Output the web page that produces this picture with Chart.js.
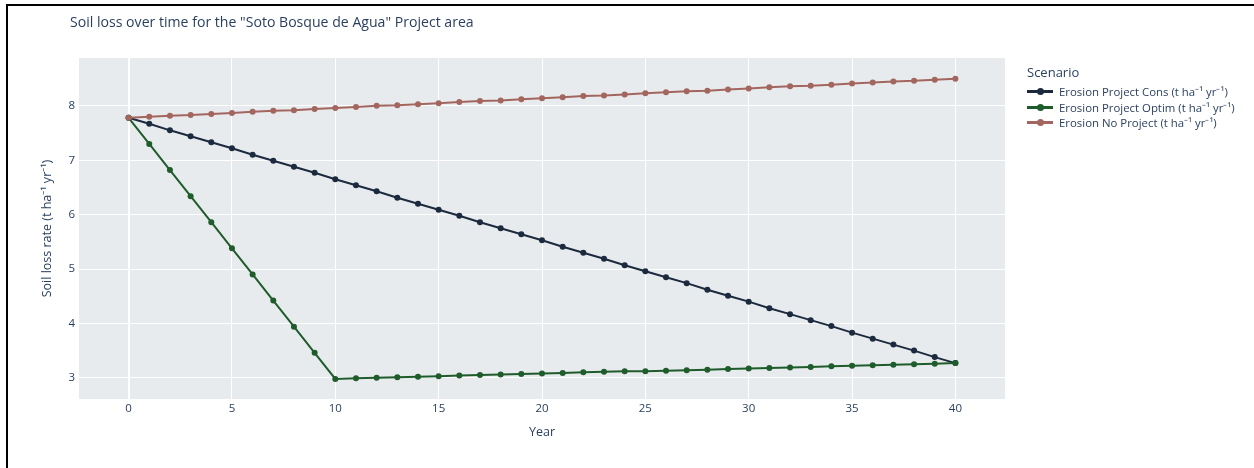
<!DOCTYPE html>
<html>
<head>
<meta charset="utf-8">
<script src="https://cdn.jsdelivr.net/npm/chart.js@4"></script>
<style>
  html, body { margin: 0; padding: 0; background: #fff; }
  #wrap { position: relative; width: 1254px; height: 468px; overflow: hidden; font-family: "Open Sans", sans-serif; color: #2a3f5f; }
  #frame { position: absolute; left: 6px; top: 4px; right: -10px; bottom: -10px; border-left: 2px solid #000; border-top: 2px solid #000; }
  #title { position: absolute; left: 70px; top: 12px; font-size: 14.1px; white-space: nowrap; }
  #legend { position: absolute; left: 1027px; top: 62px; }
  #legend .lt { font-size: 13px; height: 22px; line-height: 20px; }
  #legend .item { display: flex; align-items: center; height: 15.5px; font-size: 11.4px; white-space: nowrap; }
  #legend .sw { position: relative; width: 26px; height: 3px; margin-right: 6px; }
  #legend .sw i { position: absolute; left: 10px; top: -2px; width: 7px; height: 7px; border-radius: 50%; }
  canvas { position: absolute; left: 0; top: 0; }
</style>
</head>
<body>
<div id="wrap">
  <canvas id="chart" width="1254" height="468"></canvas>
  <div id="frame"></div>
  <div id="title">Soil loss over time for the "Soto Bosque de Agua" Project area</div>
  <div id="legend"></div>
</div>
<script>
// Year 0..40, one point per year
const years = [0,1,2,3,4,5,6,7,8,9,10,11,12,13,14,15,16,17,18,19,20,
               21,22,23,24,25,26,27,28,29,30,31,32,33,34,35,36,37,38,39,40];

const seriesNames  = [
  "Erosion Project Cons (t ha\u207B\u00B9 yr\u207B\u00B9)",
  "Erosion Project Optim (t ha\u207B\u00B9 yr\u207B\u00B9)",
  "Erosion No Project (t ha\u207B\u00B9 yr\u207B\u00B9)"
];
const seriesColors = ["#1b2a3e", "#1f5c2b", "#a3665f"];

const consValues = [7.78,7.67,7.55,7.44,7.33,7.22,7.10,6.99,6.88,6.77,6.65,
                    6.54,6.43,6.31,6.20,6.09,5.98,5.86,5.75,5.64,5.53,
                    5.41,5.30,5.19,5.07,4.96,4.85,4.74,4.62,4.51,4.40,
                    4.28,4.17,4.06,3.95,3.83,3.72,3.61,3.50,3.38,3.27];
const optimValues = [7.78,7.30,6.82,6.34,5.86,5.38,4.90,4.42,3.94,3.46,2.98,
                     2.99,3.00,3.01,3.02,3.03,3.04,3.05,3.06,3.07,3.08,
                     3.09,3.10,3.11,3.12,3.12,3.13,3.14,3.15,3.16,3.17,
                     3.18,3.19,3.20,3.21,3.22,3.23,3.24,3.25,3.26,3.27];
const noProjValues = [7.78,7.80,7.82,7.83,7.85,7.87,7.89,7.91,7.92,7.94,7.96,
                      7.98,8.00,8.01,8.03,8.05,8.07,8.09,8.10,8.12,8.14,
                      8.16,8.18,8.19,8.21,8.23,8.25,8.27,8.28,8.30,8.32,
                      8.34,8.36,8.37,8.39,8.41,8.43,8.45,8.46,8.48,8.50];

const xTicks = [0,5,10,15,20,25,30,35,40];
const yTicks = [3,4,5,6,7,8];

const seriesValues = [consValues, optimValues, noProjValues];
const textColor = "#2a3f5f";
const font = "'Open Sans', sans-serif";

// plot background like plotly
const plotBg = {
  id: "plotBg",
  beforeDraw(chart) {
    const { ctx, chartArea: a } = chart;
    ctx.save();
    ctx.fillStyle = "#e8ebed";
    ctx.fillRect(a.left, a.top, a.right - a.left, a.bottom - a.top);
    ctx.restore();
  }
};

const datasets = seriesValues.map((vals, i) => ({
  label: seriesNames[i],
  data: years.map((x, j) => ({ x, y: vals[j] })),
  borderColor: seriesColors[i],
  backgroundColor: seriesColors[i],
  pointBackgroundColor: seriesColors[i],
  pointBorderWidth: 0,
  pointRadius: 3,
  borderWidth: 2,
  tension: 0,
  order: 3 - i
}));

new Chart(document.getElementById("chart").getContext("2d"), {
  type: "line",
  data: { datasets },
  plugins: [plotBg],
  options: {
    responsive: false,
    animation: false,
    devicePixelRatio: 1,
    layout: { padding: { left: 0, right: 249, top: 58, bottom: 0 } },
    scales: {
      x: {
        type: "linear",
        min: -2.4, max: 42.4,
        afterBuildTicks: s => { s.ticks = xTicks.map(v => ({ value: v })); },
        afterFit: s => { s.height = 69; },
        border: { display: false },
        grid: { color: "#fff", lineWidth: c => (c.tick && c.tick.value === 0 ? 2 : 1), drawTicks: false },
        ticks: { color: textColor, font: { family: font, size: 11.5 }, padding: 3, maxRotation: 0 },
        title: { display: true, text: "Year", color: textColor, font: { family: font, size: 12.5 }, padding: { top: 0, bottom: 28 } }
      },
      y: {
        min: 2.61, max: 8.88,
        afterBuildTicks: s => { s.ticks = yTicks.map(v => ({ value: v })); },
        afterFit: s => { s.width = 79; },
        border: { display: false },
        grid: { color: "#fff", lineWidth: 1, drawTicks: false },
        ticks: { color: textColor, font: { family: font, size: 11.5 }, padding: 4 },
        title: { display: true, text: "Soil loss rate (t ha\u207B\u00B9 yr\u207B\u00B9)", color: textColor, font: { family: font, size: 12.5 }, padding: { top: 40, bottom: 0 } }
      }
    },
    plugins: {
      legend: { display: false },
      tooltip: { enabled: false }
    }
  }
});

// legend on the right, plotly style
const legend = document.getElementById("legend");
legend.innerHTML = `<div class="lt">Scenario</div>` + seriesNames.map((n, i) =>
  `<div class="item"><span class="sw" style="background:${seriesColors[i]}"><i style="background:${seriesColors[i]}"></i></span>${n}</div>`
).join("");
</script>
</body>
</html>
